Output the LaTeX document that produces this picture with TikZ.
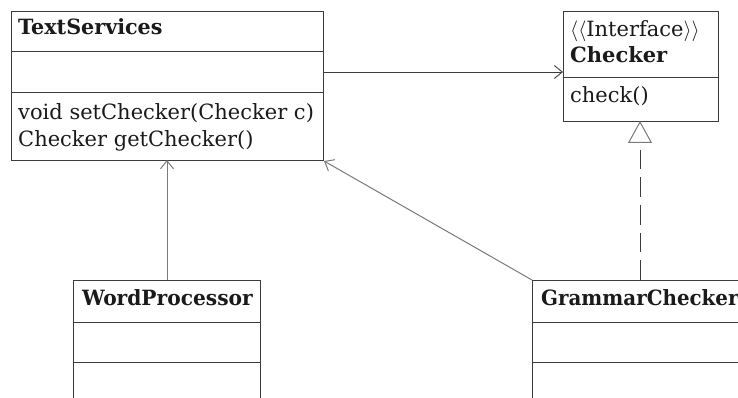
\documentclass[tikz,border=0pt]{standalone}
\usepackage{fontspec}
\usepackage{graphicx}
\setmainfont{DejaVu Serif}
\usetikzlibrary{arrows.meta}
\definecolor{linec}{HTML}{3C3C3C}
\definecolor{arrc}{HTML}{7A7A7A}
\definecolor{txtc}{HTML}{1A1A1A}
\begin{document}
\begin{tikzpicture}[x=1pt,y=-1pt,
  classbox/.style={draw=linec, line width=1pt, rectangle, inner sep=0pt, anchor=north west},
  divider/.style={draw=linec, line width=1pt},
  label/.style={anchor=base west, inner sep=0pt, text=txtc, font=\fontsize{21}{25}\selectfont},
  cname/.style={label, font=\fontsize{21}{25}\selectfont\bfseries},
  assoc/.style={draw=linec, line width=0.9pt, -{Straight Barb[length=8pt,width=13pt]}},
  assocg/.style={draw=arrc, line width=1pt, -{Straight Barb[length=8pt,width=13pt]}},
  realize/.style={draw=linec, line width=1pt, dash pattern=on 19.6pt off 8pt, dash phase=20.6pt,
     {Triangle[open, length=22pt, width=24pt, line width=1pt, color=arrc]}-}
]
\useasboundingbox (0,0) rectangle (738,398);
\clip (0,0) rectangle (738,398);
\fill[white] (0,0) rectangle (738,398);

% TextServices
\node[classbox, minimum width=312pt, minimum height=149pt] (ts) at (11,11) {};
\draw[divider] (11,52) -- (323,52);
\draw[divider] (11,93) -- (323,93);
\node[cname] (tsn) at (18,35) {\scalebox{0.985}[1]{TextServices}};
\node[label] (ts1) at (18,120) {void setChecker(Checker c)};
\node[label] (ts2) at (18,147) {Checker getChecker()};

% Checker
\node[classbox, minimum width=155pt, minimum height=110pt] (ck) at (563,11) {};
\draw[divider] (563,78) -- (718,78);
\node[label] (cks) at (570,37) {$\langle\langle$Interface$\rangle\rangle$};
\node[cname] (ckn) at (570,63) {Checker};
\node[label] (ck1) at (570,103) {check()};

% WordProcessor
\node[classbox, minimum width=187pt, minimum height=140pt] (wp) at (73,280) {};
\draw[divider] (73,322) -- (260,322);
\draw[divider] (73,362) -- (260,362);
\node[cname] (wpn) at (82,305) {\scalebox{0.962}[1]{WordProcessor}};

% GrammarChecker
\node[classbox, minimum width=230pt, minimum height=140pt] (gc) at (532,280) {};
\draw[divider] (532,322) -- (762,322);
\draw[divider] (532,362) -- (762,362);
\node[cname] (gcn) at (541,305) {\scalebox{0.945}[1]{GrammarChecker}};

% connectors
\coordinate (tsA) at (323,72);
\coordinate (ckA) at (563,72);
\draw[assoc] (tsA) -- (ckA);

\coordinate (wpT) at (167,280);
\coordinate (tsB) at (167,160);
\draw[assocg] (wpT) -- (tsB);

\draw[assocg] (gc.north west) -- (ts.south east);

\coordinate (ckB) at (640,121);
\coordinate (gcT) at (640,280);
\draw[realize] (ckB) -- (gcT);
\end{tikzpicture}
\end{document}
